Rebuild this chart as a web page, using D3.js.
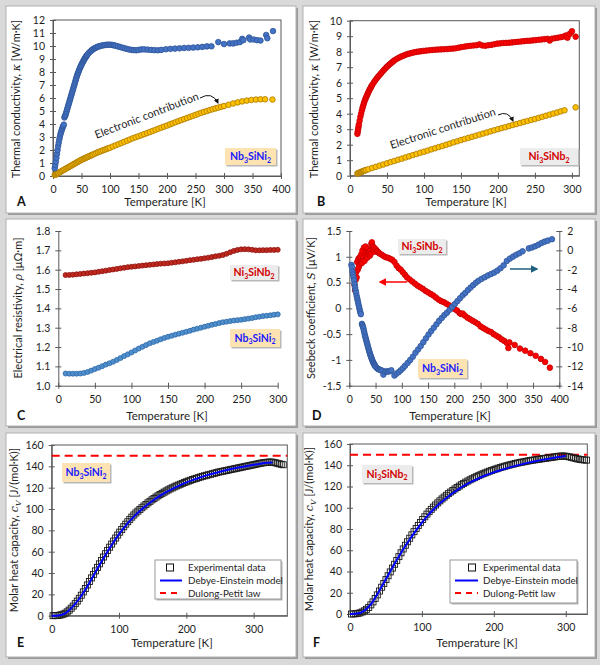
<!DOCTYPE html>
<html><head><meta charset="utf-8">
<script src="https://cdn.jsdelivr.net/npm/d3@7"></script>
<style>body{margin:0;background:#d9d9d9}</style>
</head><body><svg id="c" width="600" height="665"></svg>
<script>
// ---------------- DATA ----------------
// Panel A: Nb3SiNi2 thermal conductivity (total) and electronic part  [T(K), kappa]
const A_total = [[3,0.6],[4,0.85],[5,1.1],[6,1.4],[7,1.7],[8,2.0],[9,2.3],[10,2.55],[11,2.8],[12,3.0],[13,3.2],[14,3.35],[15,3.5],[16,3.62],[17,3.75],[18,3.85],[19,3.95],[20,4.5],[21,4.6],[22,4.7],[23,4.85],[24,5.0],[25,5.15],[26,5.3],[27,5.45],[28,5.6],[29,5.75],[30,5.9],[31,6.05],[32,6.2],[33,6.35],[34,6.5],[35,6.65],[36,6.8],[37,6.95],[38,7.1],[39,7.25],[40,7.4],[41,7.55],[42,7.7],[43,7.82],[44,7.94],[45,8.05],[46,8.16],[47,8.27],[48,8.37],[49,8.47],[50,8.56],[51,8.65],[52,8.74],[53,8.82],[54,8.9],[55,8.98],[56,9.05],[57,9.12],[58,9.19],[59,9.25],[60,9.31],[62,9.42],[64,9.52],[66,9.6],[68,9.68],[70,9.74],[72,9.8],[74,9.85],[76,9.89],[78,9.93],[80,9.97],[83,10.0],[86,10.04],[89,10.06],[92,10.08],[95,10.1],[98,10.1],[101,10.1],[104,10.08],[107,10.05],[110,10.02],[114,9.97],[118,9.92],[122,9.87],[126,9.82],[130,9.77],[134,9.73],[138,9.7],[142,9.68],[146,9.67],[150,9.7],[155,9.74],[160,9.74],[166,9.72],[172,9.7],[178,9.68],[184,9.67],[190,9.7],[198,9.75],[206,9.78],[214,9.8],[222,9.82],[230,9.85],[238,9.86],[246,9.88],[254,9.9],[262,9.93],[270,9.97],[278,9.98],[290,10.3],[300,10.15],[310,10.2],[316,10.2],[322,10.25],[328,10.3],[332,10.55],[334,10.45],[344,10.65],[346,10.5],[352,10.5],[358,10.45],[364,10.42],[374,10.85],[376,10.6],[386,11.15]];
const A_elec = [[3,0.08],[4,0.1],[5,0.12],[6,0.14],[7,0.17],[8,0.2],[9,0.22],[10,0.25],[12,0.3],[14,0.35],[16,0.4],[18,0.45],[20,0.5],[22,0.55],[24,0.6],[26,0.65],[28,0.7],[30,0.75],[32,0.8],[34,0.85],[36,0.9],[38,0.95],[40,1.0],[42,1.05],[44,1.1],[46,1.15],[48,1.2],[50,1.25],[52,1.29],[54,1.33],[56,1.37],[58,1.41],[60,1.45],[62,1.49],[64,1.53],[66,1.57],[68,1.61],[70,1.65],[73,1.71],[76,1.77],[79,1.83],[82,1.88],[85,1.93],[88,1.98],[91,2.03],[94,2.08],[97,2.13],[100,2.18],[105,2.27],[110,2.36],[115,2.45],[120,2.54],[125,2.63],[130,2.72],[135,2.81],[140,2.9],[145,2.98],[150,3.06],[155,3.14],[160,3.22],[165,3.3],[170,3.38],[175,3.47],[180,3.55],[185,3.64],[190,3.72],[195,3.8],[200,3.88],[205,3.97],[210,4.05],[215,4.14],[220,4.22],[225,4.3],[230,4.38],[235,4.46],[240,4.54],[245,4.62],[250,4.7],[255,4.78],[260,4.86],[265,4.93],[270,5.0],[275,5.07],[280,5.14],[285,5.2],[290,5.26],[295,5.32],[300,5.38],[308,5.48],[316,5.58],[324,5.66],[332,5.74],[340,5.8],[348,5.85],[356,5.88],[364,5.9],[372,5.9],[385,5.88]];
// Panel B: Ni3SiNb2
const B_total = [[10,2.7],[10.5,2.85],[11,3.0],[11.5,3.15],[12,3.3],[13,3.55],[14,3.8],[15,4.0],[16,4.2],[17,4.38],[18,4.55],[19,4.7],[20,4.85],[21,4.97],[22,5.08],[23,5.19],[24,5.3],[25,5.4],[26,5.5],[27,5.59],[28,5.68],[29,5.77],[30,5.85],[32,6.0],[34,6.14],[36,6.27],[38,6.39],[40,6.5],[42,6.61],[44,6.72],[46,6.83],[48,6.93],[50,7.03],[52,7.12],[54,7.2],[56,7.28],[58,7.36],[60,7.44],[63,7.53],[66,7.61],[69,7.68],[72,7.74],[75,7.8],[78,7.85],[81,7.89],[84,7.93],[87,7.96],[90,7.99],[93,8.01],[96,8.03],[99,8.05],[103,8.07],[107,8.09],[111,8.11],[115,8.13],[119,8.14],[123,8.15],[127,8.16],[131,8.17],[135,8.19],[139,8.2],[143,8.22],[147,8.26],[151,8.3],[155,8.33],[159,8.36],[163,8.38],[167,8.4],[171,8.42],[175,8.47],[179,8.4],[183,8.38],[187,8.42],[191,8.44],[195,8.48],[199,8.52],[203,8.54],[207,8.56],[211,8.57],[215,8.58],[219,8.6],[223,8.62],[227,8.64],[231,8.66],[235,8.68],[239,8.7],[243,8.71],[247,8.73],[251,8.75],[255,8.77],[259,8.79],[263,8.81],[267,8.83],[270,8.72],[273,8.84],[277,8.87],[281,8.9],[285,8.94],[289,8.98],[292,9.05],[294,8.9],[297,9.15],[300,9.32],[305,8.97]];
const B_elec = [[10,0.14],[11,0.16],[12,0.18],[13,0.2],[14,0.22],[15,0.24],[16,0.26],[17,0.28],[18,0.3],[19,0.32],[20,0.34],[22,0.37],[25,0.42],[30,0.5],[35,0.57],[40,0.65],[45,0.72],[50,0.8],[55,0.88],[60,0.95],[65,1.03],[70,1.1],[75,1.18],[80,1.25],[85,1.33],[90,1.4],[95,1.48],[100,1.55],[105,1.62],[110,1.7],[115,1.77],[120,1.85],[125,1.92],[130,2.0],[135,2.07],[140,2.15],[145,2.22],[150,2.3],[155,2.37],[160,2.44],[165,2.51],[170,2.58],[175,2.65],[180,2.72],[185,2.79],[190,2.86],[195,2.93],[200,3.0],[205,3.07],[210,3.13],[215,3.2],[220,3.27],[225,3.33],[230,3.4],[235,3.47],[240,3.53],[245,3.6],[250,3.66],[255,3.73],[260,3.8],[265,3.87],[270,3.94],[275,4.01],[280,4.08],[285,4.15],[290,4.22],[305,4.41]];
// Panel C: electrical resistivity
const C_T = [10,15,20,25,30,35,40,45,50,55,60,65,70,75,80,85,90,95,100,105,110,115,120,125,130,135,140,145,150,155,160,165,170,175,180,185,190,195,200,205,210,215,220,225,230,235,240,245,250,255,260,265,270,275,280,285,290,295,300];
const C_Ni = [1.572,1.573,1.574,1.576,1.578,1.580,1.582,1.584,1.586,1.589,1.592,1.595,1.598,1.601,1.604,1.607,1.610,1.613,1.615,1.617,1.619,1.621,1.623,1.625,1.627,1.629,1.631,1.632,1.633,1.636,1.638,1.641,1.643,1.646,1.649,1.651,1.654,1.656,1.659,1.662,1.665,1.669,1.672,1.676,1.682,1.690,1.697,1.702,1.705,1.706,1.705,1.703,1.700,1.700,1.701,1.701,1.702,1.702,1.703];
const C_Nb = [1.063,1.062,1.062,1.062,1.063,1.066,1.071,1.078,1.086,1.093,1.101,1.109,1.116,1.124,1.133,1.143,1.153,1.162,1.172,1.182,1.192,1.201,1.210,1.219,1.226,1.233,1.240,1.247,1.253,1.258,1.264,1.269,1.274,1.279,1.284,1.290,1.295,1.300,1.305,1.310,1.315,1.319,1.324,1.328,1.331,1.334,1.337,1.339,1.341,1.344,1.347,1.350,1.354,1.357,1.360,1.362,1.364,1.367,1.369];
// Panel D: Seebeck (Ni3SiNb2 left axis, Nb3SiNi2 right axis)
const D_Ni = [[10,0.45],[11,0.35],[12,0.55],[13,0.7],[14,0.6],[15,0.9],[16,0.75],[17,0.95],[18,0.8],[19,0.98],[20,0.85],[21,1.0],[22,0.9],[23,1.05],[24,0.88],[25,1.12],[26,0.95],[27,1.0],[28,1.18],[29,0.92],[30,1.05],[31,1.2],[32,1.0],[33,1.1],[34,0.98],[35,1.15],[36,1.05],[37,1.1],[38,1.08],[39,1.02],[40,1.12],[41,1.06],[42,1.25],[43,1.28],[44,1.15],[45,1.2],[46,1.12],[47,1.18],[48,1.1],[50,1.15],[52,1.12],[54,1.1],[56,1.08],[58,1.06],[62,1.04],[66,1.01],[70,0.99],[74,0.98],[78,0.96],[82,0.94],[86,0.9],[90,0.83],[94,0.78],[98,0.75],[102,0.7],[106,0.65],[110,0.6],[115,0.56],[120,0.52],[125,0.48],[130,0.44],[135,0.41],[140,0.38],[145,0.34],[150,0.31],[155,0.28],[160,0.25],[165,0.21],[170,0.17],[175,0.14],[180,0.12],[185,0.09],[190,0.06],[195,0.02],[200,-0.01],[205,-0.04],[210,-0.09],[213,-0.11],[216,-0.1],[220,-0.14],[225,-0.18],[230,-0.21],[235,-0.24],[240,-0.27],[245,-0.3],[250,-0.35],[255,-0.38],[260,-0.41],[265,-0.44],[270,-0.46],[275,-0.5],[280,-0.53],[285,-0.56],[290,-0.6],[295,-0.63],[300,-0.67],[303,-0.77],[305,-0.66],[315,-0.71],[325,-0.78],[335,-0.82],[345,-0.87],[355,-0.92],[365,-0.98],[373,-1.04],[382,-1.15]];
const D_Nb = [[4,-1.5],[5,-1.75],[6,-2.2],[7,-2.5],[8,-2.8],[9,-3.1],[10,-3.5],[11,-3.85],[12,-4.15],[13,-4.4],[14,-4.7],[15,-4.95],[16,-5.2],[17,-5.45],[18,-5.7],[19,-5.95],[20,-6.2],[21,-6.4],[22,-6.6],[24,-7.6],[25,-7.75],[26,-7.9],[27,-8.1],[28,-8.35],[29,-8.6],[30,-8.85],[31,-9.05],[32,-9.25],[33,-9.45],[34,-9.65],[35,-9.85],[36,-10.05],[37,-10.25],[38,-10.45],[39,-10.62],[40,-10.8],[41,-10.95],[42,-11.1],[43,-11.25],[44,-11.4],[45,-11.52],[46,-11.64],[47,-11.75],[48,-11.85],[49,-11.94],[50,-12.02],[52,-12.15],[54,-12.25],[56,-12.3],[58,-12.35],[60,-12.4],[63,-12.45],[65,-12.85],[68,-12.55],[71,-12.5],[74,-12.55],[77,-12.5],[80,-12.4],[86,-12.95],[90,-12.75],[94,-12.6],[98,-12.4],[102,-12.2],[106,-11.95],[111,-11.65],[116,-11.35],[121,-11.0],[126,-10.6],[131,-10.25],[136,-9.9],[141,-9.5],[146,-9.1],[151,-8.7],[156,-8.35],[161,-8.0],[166,-7.65],[171,-7.3],[176,-7.0],[181,-6.7],[186,-6.45],[191,-6.15],[196,-5.85],[201,-5.55],[206,-5.25],[211,-4.95],[216,-4.65],[221,-4.4],[226,-4.1],[231,-3.85],[236,-3.6],[241,-3.35],[246,-3.15],[252,-2.95],[258,-2.78],[264,-2.6],[270,-2.45],[276,-2.3],[282,-2.1],[288,-1.85],[294,-1.55],[300,-1.1],[306,-0.85],[312,-0.65],[318,-0.45],[324,-0.3],[330,-0.1],[342,0.2],[348,0.3],[354,0.42],[360,0.58],[366,0.75],[372,0.9],[378,1.0],[386,1.15]];
// Panel E: Nb3SiNi2 molar heat capacity
const E_T = [2,5,8,11,14,17,20,23,26,29,32,35,38,41,44,47,50,53,56,59,62,65,68,71,74,77,80,83,86,89,92,95,98,101,104,107,110,113,116,119,122,125,128,131,134,137,140,143,146,149,152,155,158,161,164,167,170,173,176,179,182,185,188,191,194,197,200,203,206,209,212,215,218,221,224,227,230,233,236,239,242,245,248,251,254,257,260,263,266,269,272,275,278,281,284,287,290,293,296,299,302,305,308,311,314,317,320,323,326,329,332,335,338,341,344];
const E_exp = [0.0,0.1,0.2,0.4,0.8,1.4,2.3,3.6,5.2,7.0,9.0,11.3,13.7,16.3,19.2,22.3,25.5,28.8,32.1,35.4,38.7,42.0,45.3,48.6,51.8,55.0,58.1,61.2,64.2,67.1,70.0,72.8,75.6,78.3,80.9,83.4,85.8,88.1,90.3,92.4,94.4,96.3,98.0,99.6,101.2,102.8,104.3,105.8,107.2,108.6,109.9,111.2,112.4,113.6,114.7,115.8,116.9,117.9,118.9,119.8,120.7,121.6,122.4,123.2,124.0,124.8,125.5,126.2,126.9,127.6,128.2,128.8,129.4,130.0,130.6,131.1,131.6,132.1,132.6,133.1,133.6,134.1,134.6,135.0,135.4,135.8,136.2,136.6,137.0,137.4,137.8,138.2,138.6,139.0,139.4,139.8,140.2,140.6,141.0,141.4,141.8,142.2,142.6,143.0,143.3,143.6,143.8,144.0,144.0,143.8,143.4,142.9,142.4,141.9,141.5];
const E_modelT = [0,10,20,30,40,50,60,70,80,90,100,110,120,130,140,150,160,170,180,190,200,210,220,230,240,250,260,270,280,290,300,310,320,328];
const E_model = [0,0.3,2.2,7.6,15.2,24.6,35.3,46.4,57.2,67.2,76.4,84.5,91.5,97.6,103.0,107.8,112.0,115.8,119.2,122.2,124.9,127.3,129.5,131.5,133.3,135.0,136.5,137.9,139.2,140.4,141.5,142.5,143.3,143.7];
// Panel F: Ni3SiNb2 molar heat capacity
const F_T = [2,5,8,11,14,17,20,23,26,29,32,35,38,41,44,47,50,53,56,59,62,65,68,71,74,77,80,83,86,89,92,95,98,101,104,107,110,113,116,119,122,125,128,131,134,137,140,143,146,149,152,155,158,161,164,167,170,173,176,179,182,185,188,191,194,197,200,203,206,209,212,215,218,221,224,227,230,233,236,239,242,245,248,251,254,257,260,263,266,269,272,275,278,281,284,287,290,293,296,299,302,305,308,311,314,317,320,323,326,329];
const F_exp = [0.0,0.1,0.3,0.6,1.1,1.9,3.0,4.4,6.2,8.6,11.4,14.6,18.0,21.6,25.2,28.8,32.4,36.0,39.6,43.2,46.8,50.4,54.0,57.6,61.2,64.7,68.0,71.3,74.5,77.5,80.5,83.4,86.2,88.9,91.5,94.0,96.3,98.5,100.6,102.6,104.6,106.5,108.3,110.0,111.7,113.3,114.8,116.3,117.7,119.1,120.4,121.7,122.9,124.1,125.2,126.3,127.3,128.3,129.3,130.2,131.1,132.0,132.8,133.6,134.4,135.1,135.8,136.5,137.2,137.8,138.4,139.0,139.6,140.1,140.6,141.1,141.6,142.1,142.5,142.9,143.3,143.7,144.1,144.5,144.8,145.1,145.4,145.7,146.0,146.3,146.6,146.9,147.2,147.5,147.8,148.1,148.4,148.6,148.7,148.6,148.3,147.9,147.4,146.9,146.4,145.9,145.5,145.2,145.0,144.8];
const F_modelT = [0,10,20,30,40,50,60,70,80,90,100,110,120,130,140,150,160,170,180,190,200,210,220,230,240,250,260,270,280,290,300];
const F_model = [0,0.4,3.2,10.0,21.0,33.0,45.0,56.5,67.0,77.0,86.0,94.0,101.0,107.0,112.3,117.0,121.2,124.8,128.0,130.8,133.3,135.5,137.5,139.4,141.1,142.7,144.1,145.4,146.6,147.7,148.7];
const dulongPetit = 150;
// tick values
const ticksA_x=[0,50,100,150,200,250,300,350,400], ticksA_y=[0,1,2,3,4,5,6,7,8,9,10,11,12];
const ticksB_x=[0,50,100,150,200,250,300], ticksB_y=[0,1,2,3,4,5,6,7,8,9,10];
const ticksC_x=[0,50,100,150,200,250,300], ticksC_y=[1.0,1.1,1.2,1.3,1.4,1.5,1.6,1.7,1.8];
const ticksD_x=[0,50,100,150,200,250,300,350,400], ticksD_yL=[-1.5,-1,-0.5,0,0.5,1,1.5], ticksD_yR=[-14,-12,-10,-8,-6,-4,-2,0,2];
const ticksEF_x=[0,100,200,300], ticksEF_y=[0,20,40,60,80,100,120,140,160];

// ---------------- DRAWING ----------------
const FONT = "Lato, 'Open Sans', sans-serif";
const AX = '#595959';
const TXT = '#1e1e1e';
const svg = d3.select('#c');
svg.append('rect').attr('width',600).attr('height',665).attr('fill','#d9d9d9');
const defs = svg.append('defs');
function mk(id,color){
  defs.append('marker').attr('id',id).attr('viewBox','0 0 10 10').attr('refX',8).attr('refY',5)
    .attr('markerWidth',5).attr('markerHeight',5).attr('orient','auto')
    .append('path').attr('d','M0,0L10,5L0,10z').attr('fill',color);
}
mk('arK','#111'); mk('arR','#ff0000'); mk('arT','#1f5f7f');

function panel(x,y,w,h){
  svg.append('rect').attr('x',x+2).attr('y',y+2).attr('width',w).attr('height',h).attr('fill','#9a9a9a');
  svg.append('rect').attr('x',x).attr('y',y).attr('width',w).attr('height',h).attr('fill','#fff').attr('stroke','#b0b0b0');
}
panel(6,6,290,207); panel(303,6,292,207);
panel(6,219,290,207); panel(303,219,292,207);
panel(6,433,290,224); panel(303,433,292,224);

function styleAxis(a){
  a.attr('font-family',FONT).attr('font-size',10.5);
  a.select('.domain').attr('stroke',AX);
  a.selectAll('.tick line').attr('stroke',AX);
  a.selectAll('.tick text').attr('fill',TXT);
}
function frame(o){
  const x = d3.scaleLinear().domain(o.xd).range(o.xr);
  const y = d3.scaleLinear().domain(o.yd).range(o.yr);
  const g = svg.append('g');
  if(o.box) g.append('rect').attr('x',o.xr[0]).attr('y',o.yr[1]).attr('width',o.xr[1]-o.xr[0])
      .attr('height',o.yr[0]-o.yr[1]).attr('fill','none').attr('stroke',AX);
  const xa = g.append('g').attr('transform',`translate(0,${o.yr[0]})`)
    .call(d3.axisBottom(x).tickValues(o.xt).tickSizeInner(3).tickSizeOuter(0).tickPadding(7).tickFormat(d=>String(d)));
  xa.selectAll('.tick line').attr('y1',-3);
  styleAxis(xa);
  const ya = g.append('g').attr('transform',`translate(${o.xr[0]},0)`)
    .call(d3.axisLeft(y).tickValues(o.yt).tickSizeInner(3).tickSizeOuter(0).tickPadding(5).tickFormat(o.yf||(d=>String(d))));
  ya.selectAll('.tick line').attr('x1',3);
  styleAxis(ya);
  return {x,y,g};
}
function dots(g,data,x,y,fill,stroke,r){
  g.append('g').selectAll('circle').data(data).join('circle')
    .attr('cx',d=>x(d[0])).attr('cy',d=>y(d[1])).attr('r',r)
    .attr('fill',fill).attr('stroke',stroke).attr('stroke-width',0.8);
}
function squares(g,T,V,x,y){
  g.append('g').selectAll('rect').data(T.map((t,i)=>[t,V[i]])).join('rect')
    .attr('x',d=>x(d[0])-3).attr('y',d=>y(d[1])-3).attr('width',6).attr('height',6)
    .attr('fill','none').attr('stroke','#1a1a1a').attr('stroke-width',0.9);
}
function ytitle(cx,cy,parts){
  const t = svg.append('text').attr('transform',`translate(${cx},${cy}) rotate(-90)`)
    .attr('text-anchor','middle').attr('font-family',FONT).attr('font-size',11).attr('fill',TXT);
  parts.forEach(p=>{
    const s=t.append('tspan').text(p.t);
    if(p.i) s.attr('font-style','italic').attr('font-family',"'DejaVu Serif', serif").attr('font-size',11);
    if(p.sub) s.attr('font-size',8).attr('dy',2.5);
    if(p.up) s.attr('dy',-2.5);
  });
}
function xtitle(cx,y,letter,lx){
  svg.append('text').attr('x',cx).attr('y',y).attr('text-anchor','middle').attr('font-family',FONT)
    .attr('font-size',11.5).attr('fill',TXT).text('Temperature [K]');
  svg.append('text').attr('x',lx).attr('y',y).attr('font-family',FONT).attr('font-weight','bold')
    .attr('font-size',12.5).attr('fill','#111').text(letter);
}
function compound(x,y,w,h,parts,fill,color){
  svg.append('rect').attr('x',x+1.5).attr('y',y+1.5).attr('width',w).attr('height',h).attr('fill','#b8b8b8');
  svg.append('rect').attr('x',x).attr('y',y).attr('width',w).attr('height',h).attr('fill',fill);
  const t=svg.append('text').attr('x',x+w/2).attr('y',y+h/2+3.5).attr('text-anchor','middle')
    .attr('font-family',FONT).attr('font-weight','bold').attr('font-size',10.5).attr('fill',color);
  parts.forEach(p=>{
    const s=t.append('tspan').text(p[0]);
    if(p[1]===1) s.attr('font-size',7).attr('dy',2.5);
    if(p[1]===2) s.attr('dy',-2.5);
  });
}
const NB=[['Nb',0],['3',1],['SiNi',2],['2',1]];
const NI=[['Ni',0],['3',1],['SiNb',2],['2',1]];
const ORF='#fde3b2', GRF='#ececec', BLU='#1a1aff', RED='#d40000';

// ----- Panel A -----
{
  const {x,y,g}=frame({xd:[0,400],xr:[53,281],yd:[0,12],yr:[176,20],xt:ticksA_x,yt:ticksA_y,box:true});
  dots(g,A_elec,x,y,'#ffc000','#a87800',2.8);
  dots(g,A_total,x,y,'#4472c4','#2f5597',2.8);
  ytitle(20,99,[{t:'Thermal conductivity, '},{t:'κ',i:1},{t:' [W/m·K]'}]);
  xtitle(165,206,'A',17);
  svg.append('text').attr('transform','translate(148,119) rotate(-21)').attr('text-anchor','middle')
    .attr('font-family',FONT).attr('font-size',11).attr('fill',TXT).text('Electronic contribution');
  svg.append('path').attr('d','M200,98 Q212,91 218,103').attr('fill','none').attr('stroke','#111')
    .attr('stroke-width',1).attr('marker-end','url(#arK)');
  compound(225,148,51,17,NB,ORF,BLU);
}
// ----- Panel B -----
{
  const {x,y,g}=frame({xd:[0,310],xr:[350,579.3],yd:[0,10],yr:[175.7,20.7],xt:ticksB_x,yt:ticksB_y,box:true});
  dots(g,B_elec,x,y,'#ffc000','#a87800',2.8);
  dots(g,B_total,x,y,'#ff0000','#c00000',2.8);
  ytitle(318,99,[{t:'Thermal conductivity, '},{t:'κ',i:1},{t:' [W/m·K]'}]);
  xtitle(466,206,'B',317);
  svg.append('text').attr('transform','translate(444,132) rotate(-18)').attr('text-anchor','middle')
    .attr('font-family',FONT).attr('font-size',11).attr('fill',TXT).text('Electronic contribution');
  svg.append('path').attr('d','M498,115 Q508,110 513,121').attr('fill','none').attr('stroke','#111')
    .attr('stroke-width',1).attr('marker-end','url(#arK)');
  compound(520,148,58,17,NI,GRF,RED);
}
// ----- Panel C -----
{
  const {x,y,g}=frame({xd:[0,300],xr:[58.3,277.7],yd:[1.0,1.8],yr:[385.7,231],xt:ticksC_x,yt:ticksC_y,yf:d3.format('.1f')});
  dots(g,C_T.map((t,i)=>[t,C_Ni[i]]),x,y,'#c0281e','#8b1410',2.5);
  dots(g,C_T.map((t,i)=>[t,C_Nb[i]]),x,y,'#4f8fcc','#2e68a8',2.5);
  ytitle(22,308,[{t:'Electrical resistivity, '},{t:'ρ',i:1},{t:' [μΩ·m]'}]);
  xtitle(167,420,'C',17);
  compound(230,265,48,15,NI,GRF,RED);
  compound(230,329,50,18,NB,ORF,BLU);
}
// ----- Panel D -----
{
  const {x,y,g}=frame({xd:[0,400],xr:[349.3,559.3],yd:[-1.5,1.5],yr:[385.7,231],xt:ticksD_x,yt:ticksD_yL});
  const yR=d3.scaleLinear().domain([-14,2]).range([385.7,231]);
  const ra=g.append('g').attr('transform','translate(559.3,0)')
    .call(d3.axisRight(yR).tickValues(ticksD_yR).tickSizeInner(3).tickSizeOuter(0).tickPadding(5).tickFormat(d=>String(d)));
  ra.selectAll('.tick line').attr('x1',-3);
  styleAxis(ra);
  dots(g,D_Ni,x,y,'#ff0000','#c00000',2.8);
  dots(g,D_Nb,x,yR,'#4472c4','#2f5597',2.8);
  ytitle(315,308,[{t:'Seebeck coefficient, '},{t:'S',i:1},{t:' [μV/K]'}]);
  xtitle(450,420,'D',312);
  compound(398,239,48,15,NI,GRF,RED);
  compound(418,359,49,19,NB,ORF,BLU);
  svg.append('line').attr('x1',407).attr('y1',282).attr('x2',380).attr('y2',282).attr('stroke','#ff0000')
    .attr('stroke-width',1.5).attr('marker-end','url(#arR)');
  svg.append('line').attr('x1',510).attr('y1',269).attr('x2',537).attr('y2',269).attr('stroke','#1f5f7f')
    .attr('stroke-width',1.5).attr('marker-end','url(#arT)');
}
// ----- Panels E, F -----
function heat(o){
  const {x,y,g}=frame({xd:o.xd,xr:o.xr,yd:[0,160],yr:o.yr,xt:ticksEF_x,yt:ticksEF_y,box:true});
  g.append('line').attr('x1',o.xr[0]).attr('x2',o.xr[1]).attr('y1',y(dulongPetit)).attr('y2',y(dulongPetit))
    .attr('stroke','#ff0000').attr('stroke-width',2).attr('stroke-dasharray','8,5');
  squares(g,o.T,o.V,x,y);
  g.append('path').datum(o.mT.map((t,i)=>[t,o.mV[i]]))
    .attr('d',d3.line().x(d=>x(d[0])).y(d=>y(d[1])).curve(d3.curveMonotoneX))
    .attr('fill','none').attr('stroke','#0000ff').attr('stroke-width',2);
  // legend
  const L=o.leg;
  svg.append('rect').attr('x',L.x+1.5).attr('y',L.y+1.5).attr('width',L.w).attr('height',L.h).attr('fill','#b5b5b5');
  svg.append('rect').attr('x',L.x).attr('y',L.y).attr('width',L.w).attr('height',L.h).attr('fill','#fff').attr('stroke','#9a9a9a');
  const rows=[L.y+7.5,L.y+20.5,L.y+33];
  svg.append('rect').attr('x',L.sx-3.5).attr('y',rows[0]-3.5).attr('width',7).attr('height',7).attr('fill','none').attr('stroke','#111');
  svg.append('line').attr('x1',L.l0).attr('x2',L.l1).attr('y1',rows[1]).attr('y2',rows[1]).attr('stroke','#0000ff').attr('stroke-width',2);
  svg.append('line').attr('x1',L.l0).attr('x2',L.l1).attr('y1',rows[2]).attr('y2',rows[2]).attr('stroke','#ff0000').attr('stroke-width',2).attr('stroke-dasharray','6,5');
  ['Experimental data','Debye-Einstein model','Dulong-Petit law'].forEach((s,i)=>{
    svg.append('text').attr('x',L.tx).attr('y',rows[i]+3.5).attr('font-family',FONT).attr('font-size',9.8).attr('fill',TXT).text(s);
  });
}
heat({xd:[0,350],xr:[51.7,287.3],yr:[615.7,445],T:E_T,V:E_exp,mT:E_modelT,mV:E_model,
      leg:{x:155,y:560,w:126,h:39,sx:170,l0:160,l1:182,tx:188}});
ytitle(18,530,[{t:'Molar heat capacity, '},{t:'c',i:1},{t:'V',i:1,sub:1},{t:'  [J/(mol·K)]',up:1}]);
xtitle(172,647,'E',17);
compound(62,463,48,19,NB,ORF,BLU);
heat({xd:[0,330],xr:[350,587.3],yr:[614,444],T:F_T,V:F_exp,mT:F_modelT,mV:F_model,
      leg:{x:450,y:560,w:127,h:43,sx:472,l0:455,l1:478,tx:483}});
ytitle(313,529,[{t:'Molar heat capacity, '},{t:'c',i:1},{t:'V',i:1,sub:1},{t:'  [J/(mol·K)]',up:1}]);
xtitle(477,647,'F',313);
compound(362,465,50,18,NI,GRF,RED);
</script></body></html>
